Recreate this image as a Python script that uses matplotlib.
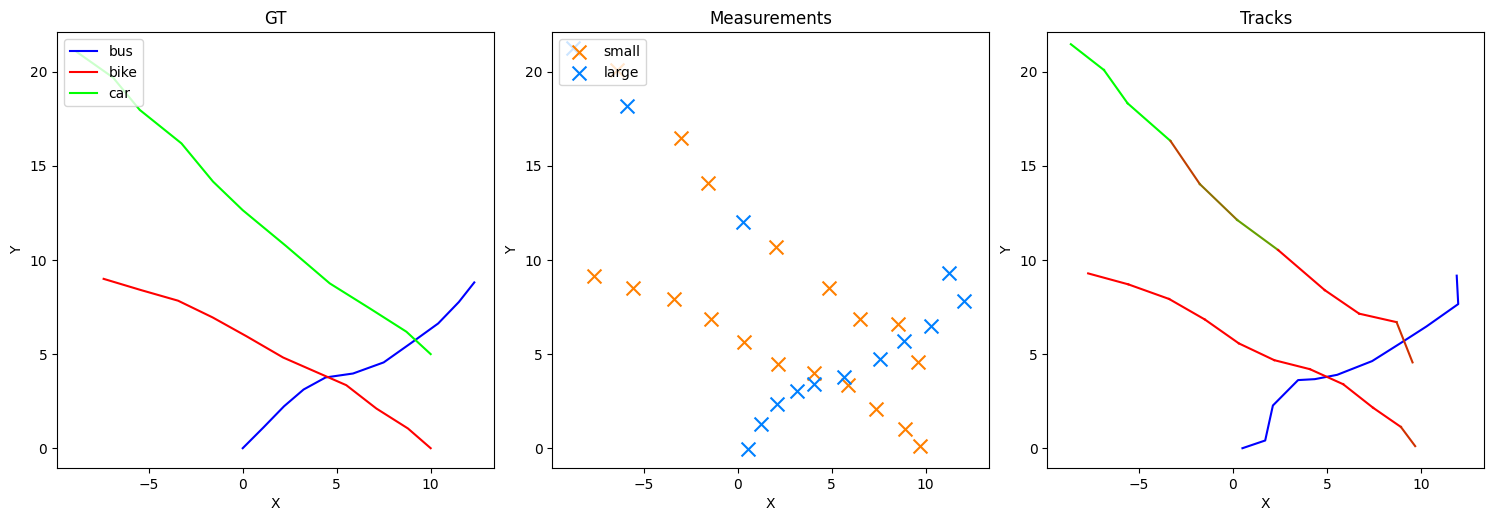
import matplotlib
matplotlib.use("Agg")
import matplotlib.pyplot as plt

# ---- Ground truth trajectories ----
bus_x = [0.0, 1.1, 2.2, 3.24, 4.41, 5.87, 7.5, 9.0, 10.4, 11.5, 12.32]
bus_y = [0.0, 1.1, 2.23, 3.12, 3.76, 3.97, 4.56, 5.62, 6.63, 7.77, 8.81]
bike_x = [-7.4, -5.4, -3.44, -1.6, 0.2, 2.15, 4.0, 5.51, 7.11, 8.79, 10.0]
bike_y = [9.0, 8.4, 7.84, 6.95, 5.95, 4.82, 4.01, 3.35, 2.11, 1.05, 0.0]
car_x = [-8.82, -6.9, -5.48, -3.26, -1.58, 0.0, 2.3, 4.63, 6.76, 8.71, 10.0]
car_y = [21.05, 19.7, 17.98, 16.2, 14.17, 12.65, 10.75, 8.76, 7.43, 6.19, 5.0]

# ---- Measurements ----
small_x = [-6.45, -3.03, -1.6, 2.04, 4.84, 6.49, 8.53, 9.59,
           -7.64, -5.57, -3.39, -1.44, 0.32, 2.15, 4.06, 5.87, 7.34, 8.88, 9.7]
small_y = [20.1, 16.47, 14.11, 10.71, 8.49, 6.84, 6.58, 4.56,
           9.17, 8.53, 7.91, 6.84, 5.62, 4.5, 4.02, 3.35, 2.07, 1.01, 0.11]
large_x = [-8.76, -5.89, 0.28, 0.55, 1.24, 2.09, 3.16, 4.06, 5.66, 7.57, 8.85, 10.3, 11.24, 12.06]
large_y = [21.26, 18.21, 12.04, -0.02, 1.26, 2.34, 3.05, 3.4, 3.79, 4.72, 5.69, 6.49, 9.29, 7.82]

# ---- Tracks ----
trk_bus_x = [0.51, 1.72, 2.13, 3.47, 4.36, 5.55, 7.41, 8.9, 10.3, 11.99, 11.91]
trk_bus_y = [0.0, 0.41, 2.27, 3.62, 3.67, 3.9, 4.63, 5.57, 6.47, 7.66, 9.17]
trk_bike_x = [-7.7, -5.57, -3.39, -1.49, 0.32, 2.2, 4.1, 5.87, 7.46, 8.94, 9.7]
trk_bike_y = [9.29, 8.71, 7.93, 6.84, 5.57, 4.68, 4.2, 3.4, 2.15, 1.13, 0.11]
trk_car_x = [-8.62, -6.86, -5.6, -3.32, -1.76, 0.23, 2.41, 4.89, 6.72, 8.71, 9.56]
trk_car_y = [21.47, 20.1, 18.33, 16.33, 14.04, 12.13, 10.53, 8.4, 7.15, 6.7, 4.56]
trk_car_colors = ['#00ff00', '#00ff00', '#00ff00', '#c04000', '#8c7000', '#66a000',
                  '#ff0000', '#ff0000', '#ff0000', '#d03000']
trk_bike_colors = ['#ff0000'] * 9 + ['#d03000']

fig, axes = plt.subplots(1, 3, figsize=(14.94, 5.21), dpi=100)
fig.subplots_adjust(left=0.0382, right=0.9935, bottom=0.1017, top=0.938, wspace=0.1327)

ax0, ax1, ax2 = axes
ax0.plot(bus_x, bus_y, color='blue', label='bus')
ax0.plot(bike_x, bike_y, color='red', label='bike')
ax0.plot(car_x, car_y, color='lime', label='car')
ax0.set_title('GT')
ax0.legend(loc='upper left')

ax1.scatter(small_x, small_y, marker='x', s=100, color='#ff8000', label='small')
ax1.scatter(large_x, large_y, marker='x', s=100, color='#0080ff', label='large')
ax1.set_title('Measurements')
ax1.legend(loc='upper left')

ax2.plot(trk_bus_x, trk_bus_y, color='blue')
for i in range(len(trk_bike_x) - 1):
    ax2.plot(trk_bike_x[i:i + 2], trk_bike_y[i:i + 2], color=trk_bike_colors[i])
for i in range(len(trk_car_x) - 1):
    ax2.plot(trk_car_x[i:i + 2], trk_car_y[i:i + 2], color=trk_car_colors[i])
ax2.set_title('Tracks')

xl = ax0.get_xlim()
yl = ax0.get_ylim()
for ax in axes:
    ax.set_xlim(xl)
    ax.set_ylim(yl)
    ax.set_xlabel('X')
    ax.set_ylabel('Y')

fig.savefig('out.png', dpi=100)
